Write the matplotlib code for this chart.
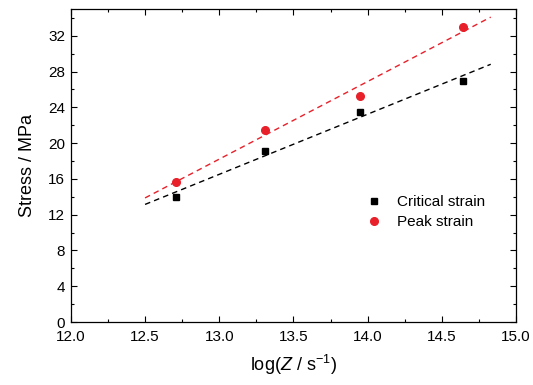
import numpy as np
import matplotlib
matplotlib.use("Agg")
import matplotlib.pyplot as plt
from matplotlib.ticker import MultipleLocator

plt.rcParams['font.family'] = ['Liberation Sans', 'DejaVu Sans']
plt.rcParams['mathtext.fontset'] = 'custom'
plt.rcParams['mathtext.rm'] = 'Liberation Sans'
plt.rcParams['mathtext.it'] = 'Liberation Sans:italic'

logZ = [12.71, 13.31, 13.95, 14.64]
critical = [14.0, 19.1, 23.5, 27.0]
peak = [15.7, 21.5, 25.3, 33.0]
fit_range = [12.5, 14.83]

fig = plt.figure(figsize=(5.33, 3.85), dpi=100)
ax = fig.add_axes([0.133, 0.1636, 0.835, 0.813])

xf = np.array(fit_range)
for y, c in [(critical, 'black'), (peak, '#e8202a')]:
    k, b = np.polyfit(logZ, y, 1)
    ax.plot(xf, k * xf + b, ls=(0, (4, 3)), color=c, lw=1.0)

ax.plot(logZ, critical, 's', color='black', ms=5, label='Critical strain')
ax.plot(logZ, peak, 'o', color='#e8202a', ms=5.5, label='Peak strain')

ax.set_xlim(12.0, 15.0)
ax.set_ylim(0, 35)
ax.xaxis.set_major_locator(MultipleLocator(0.5))
ax.xaxis.set_minor_locator(MultipleLocator(0.25))
ax.yaxis.set_major_locator(MultipleLocator(4))
ax.yaxis.set_minor_locator(MultipleLocator(2))
ax.xaxis.set_major_formatter(matplotlib.ticker.FormatStrFormatter('%.1f'))
ax.tick_params(which='both', direction='in', top=True, right=True, labelsize=11)
ax.tick_params(axis='x', which='major', pad=6)
ax.tick_params(axis='y', which='major', pad=4)
ax.tick_params(which='major', length=4, width=0.8)
ax.tick_params(which='minor', length=2.5, width=0.8)
for s in ax.spines.values():
    s.set_linewidth(0.9)

ax.set_xlabel(r'log($\mathit{Z}$ / s$^{-1}$)', fontsize=13, labelpad=6)
ax.set_ylabel('Stress / MPa', fontsize=13, labelpad=9)

ax.legend(loc='upper left', bbox_to_anchor=(0.63, 0.45), frameon=False,
          fontsize=11, handletextpad=0.9, labelspacing=0.4, handlelength=1.2)

fig.savefig('out.png', dpi=100)
